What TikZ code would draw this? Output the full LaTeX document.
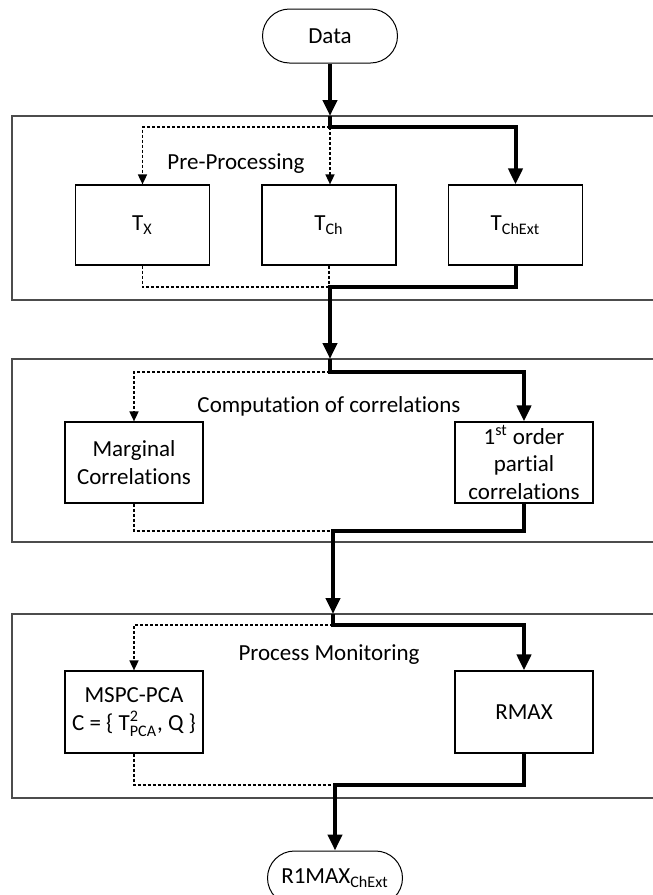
\documentclass[tikz,border=0pt]{standalone}
\usepackage{amsmath}
\usepackage{fontspec}
\setmainfont{Carlito}[RawFeature=-liga]
\usepackage{tikz}
\usetikzlibrary{arrows.meta}

\begin{document}
\begin{tikzpicture}[x=0.5pt,y=-0.5pt,
  font=\fontsize{11.5}{13.8}\selectfont,
  frame/.style={draw=black!70, line width=0.6pt},
  blockbox/.style={draw, line width=0.6pt, align=center, inner sep=1pt,
    minimum width=67pt, minimum height=40pt},
  terminal/.style={draw, line width=0.5pt, rounded corners=13.5pt,
    minimum width=67.5pt, minimum height=27pt},
  mainflow/.style={line width=2pt},
  mainarrow/.style={mainflow, -{Triangle[width=7pt,length=8pt]}},
  sideflow/.style={line width=0.8pt, dash pattern=on 1.5pt off 1pt},
  sidearrow/.style={sideflow, -{Triangle[width=4.5pt,length=5pt]}}]
\useasboundingbox (0,0) rectangle (653,895);

% stage frames
\draw[frame] (12,116) rectangle (670,300);
\draw[frame] (12,359) rectangle (670,542);
\draw[frame] (12,614) rectangle (670,798);

% input
\node[terminal] (data) at (330,36) {Data};

% pre-processing
\node (pretitle) at (236,164) {Pre-Processing};
\node[blockbox] (tx) at (142.5,225) {T\textsubscript{X}};
\node[blockbox] (tch) at (329,225) {T\textsubscript{Ch}};
\node[blockbox] (tchext) at (515.5,225) {T\textsubscript{ChExt}};
\coordinate (in1) at (330,116);
\coordinate (split1) at (330,127);
\coordinate (merge1) at (330,287);

% correlations
\node (corrtitle) at (329,406) {Computation of correlations};
\node[blockbox, minimum width=69pt, minimum height=40.5pt] (marg) at (134,462.5) {Marginal\\Correlations};
\node[blockbox, minimum width=69pt, minimum height=40.5pt, inner sep=0pt] (partial) at (524,462.5) {1\textsuperscript{st} order\\partial\\correlations};
\coordinate (in2) at (330,359);
\coordinate (split2) at (330,372);
\coordinate (merge2) at (333,531);

% monitoring
\node (montitle) at (329,655) {Process Monitoring};
\node[blockbox, minimum width=69pt, minimum height=41pt] (mspc) at (134,712) {MSPC-PCA\\C = \{ $\text{T}^{\text{2}}_{\text{PCA}}$, Q \}};
\node[blockbox, minimum width=69pt, minimum height=41pt] (rmax) at (524,712) {RMAX};
\coordinate (in3) at (333,614);
\coordinate (split3) at (333,625);
\coordinate (merge3) at (335,785);

% output
\node[terminal] (result) at (335,878) {R1MAX\textsubscript{ChExt}};

% flow, stage 1
\draw[mainarrow] (data.south) -- (in1);
\draw[mainarrow] (in1) -- (split1) -| (tchext);
\draw[sidearrow] (split1) -| (tx);
\draw[sidearrow] (split1) -- (split1 |- tch.north);
\draw[sideflow] (tx) |- (merge1);
\draw[sideflow] (tch.south) -- (tch.south |- merge1);
\draw[mainarrow] (tchext) |- (merge1) -- (in2);

% flow, stage 2
\draw[mainarrow] (in2) -- (split2) -| (partial);
\draw[sidearrow] (split2) -| (marg);
\draw[sideflow] (marg) |- (merge2);
\draw[mainarrow] (partial) |- (merge2) -- (in3);

% flow, stage 3
\draw[mainarrow] (in3) -- (split3) -| (rmax);
\draw[sidearrow] (split3) -| (mspc);
\draw[sideflow] (mspc) |- (merge3);
\draw[mainarrow] (rmax) |- (merge3) -- (result);
\end{tikzpicture}
\end{document}
